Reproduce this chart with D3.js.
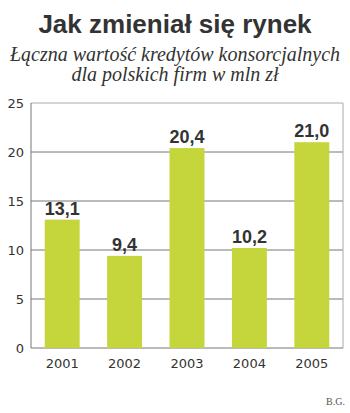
<head><script src="https://d3js.org/d3.v7.min.js"></script></head>
<body style="margin:0;background:#fff">
<svg id="chart" width="350" height="413"></svg>
<script>
  // chart data
  var years = ["2001", "2002", "2003", "2004", "2005"];
  var values = [13.1, 9.4, 20.4, 10.2, 21.0];
  var yTicks = [0, 5, 10, 15, 20, 25];

  var svg = d3.select("#chart");
  var mLeft = 31, mRight = 343, mTop = 103, mBottom = 348;
  var serif = "'Liberation Serif', 'DejaVu Serif', serif";
  var sans = "'Liberation Sans', Arial, sans-serif";

  var x = d3.scaleBand().domain(years).range([mLeft, mRight]).paddingInner(0.44).paddingOuter(0.22);
  var y = d3.scaleLinear().domain([0, 25]).range([mBottom, mTop]);

  // title + subtitle
  svg.append("text").attr("x", 175).attr("y", 33).attr("text-anchor", "middle")
    .style("font-family", sans).style("font-weight", "bold")
    .style("font-size", "26px").attr("fill", "#333").text("Jak zmieniał się rynek");
  svg.append("text").attr("x", 175).attr("y", 61).attr("text-anchor", "middle")
    .style("font-family", serif).style("font-style", "italic")
    .style("font-size", "20px").attr("fill", "#333").text("Łączna wartość kredytów konsorcjalnych");
  svg.append("text").attr("x", 175).attr("y", 81).attr("text-anchor", "middle")
    .style("font-family", serif).style("font-style", "italic")
    .style("font-size", "20px").attr("fill", "#333").text("dla polskich firm w mln zł");

  // gridlines
  svg.selectAll(".grid").data(yTicks.slice(1)).enter().append("line")
    .attr("x1", mLeft).attr("x2", mRight).attr("y1", d => y(d)).attr("y2", d => y(d))
    .attr("stroke", d => d == 25 ? "#aaa" : "#777").attr("stroke-width", 1);

  // frame: left, right, bottom
  svg.append("line").attr("x1", mLeft).attr("x2", mLeft).attr("y1", mTop).attr("y2", mBottom).attr("stroke", "#777");
  svg.append("line").attr("x1", mRight).attr("x2", mRight).attr("y1", mTop).attr("y2", mBottom).attr("stroke", "#aaa");
  svg.append("line").attr("x1", mLeft).attr("x2", mRight).attr("y1", mBottom).attr("y2", mBottom).attr("stroke", "#777");

  // bars
  svg.selectAll(".bar").data(values).enter().append("rect")
    .attr("x", (d, i) => x(years[i])).attr("width", x.bandwidth())
    .attr("y", d => y(d)).attr("height", d => mBottom - y(d))
    .attr("fill", "#c5d63c");

  // value labels
  svg.selectAll(".val").data(values).enter().append("text")
    .attr("x", (d, i) => x(years[i]) + x.bandwidth() / 2).attr("y", d => y(d) - 5)
    .attr("text-anchor", "middle")
    .style("font-family", sans).style("font-weight", "bold")
    .style("font-size", "18px").attr("fill", "#333")
    .text(d => d.toFixed(1).replace(".", ","));

  // y tick labels
  svg.selectAll(".ytick").data(yTicks).enter().append("text")
    .attr("x", 24).attr("y", d => y(d) + 5).attr("text-anchor", "end")
    .style("font-family", "'DejaVu Sans', sans-serif").style("font-size", "13px")
    .attr("fill", "#333").text(d => d);

  // x labels
  svg.selectAll(".xtick").data(years).enter().append("text")
    .attr("x", d => x(d) + x.bandwidth() / 2).attr("y", 368).attr("text-anchor", "middle")
    .style("font-family", "'DejaVu Sans', sans-serif").style("font-size", "13px")
    .attr("fill", "#333").text(d => d);

  svg.append("text").attr("x", 345).attr("y", 405).attr("text-anchor", "end")
    .style("font-family", serif).style("font-size", "10px")
    .attr("fill", "#555").text("B.G.");
</script>
</body>
